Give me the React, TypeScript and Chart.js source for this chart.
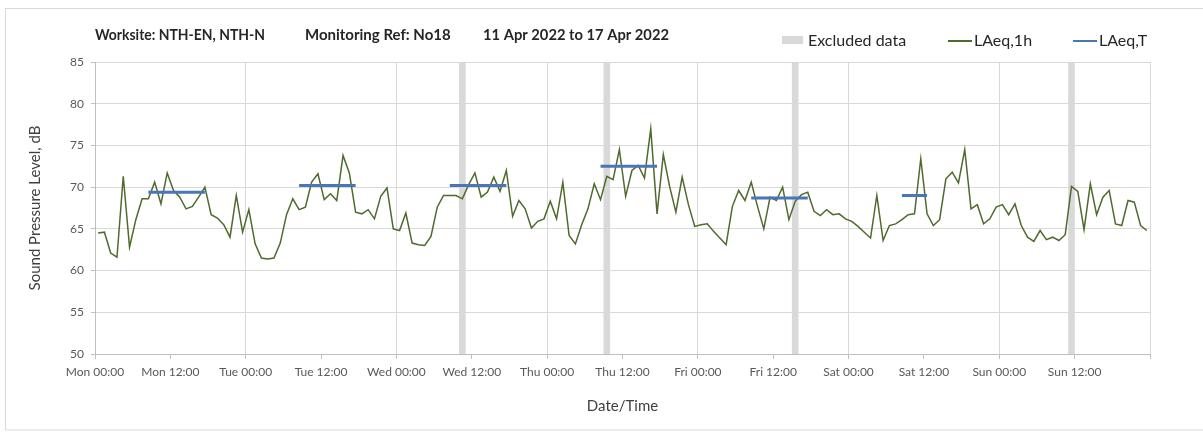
import { useEffect, useRef } from "react";
import { Chart, registerables } from "chart.js";

Chart.register(...registerables);

// Hourly LAeq,1h values (dB), one array per day, Mon..Sun
const monValues = [64.5, 64.6, 62.1, 61.6, 71.3, 62.8, 66.1, 68.6, 68.6, 70.6, 68.0, 71.7, 69.6, 68.8, 67.4, 67.7, 68.8, 70.0, 66.7, 66.3, 65.5, 64.0, 69.0, 64.6];
const tueValues = [67.3, 63.2, 61.5, 61.4, 61.5, 63.3, 66.7, 68.6, 67.3, 67.6, 70.6, 71.6, 68.5, 69.2, 68.4, 73.8, 71.7, 67.0, 66.8, 67.3, 66.2, 68.9, 69.9, 65.0];
const wedValues = [64.8, 66.9, 63.3, 63.1, 63.0, 64.1, 67.6, 69.0, 69.0, 69.0, 68.6, 70.3, 71.7, 68.8, 69.4, 71.2, 69.5, 72.0, 66.5, 68.4, 67.4, 65.1, 65.9, 66.2];
const thuValues = [68.3, 66.2, 70.6, 64.2, 63.2, 65.5, 67.4, 70.4, 68.5, 71.3, 70.9, 74.5, 68.9, 72.0, 72.6, 71.1, 77.0, 66.8, 73.9, 70.1, 67.0, 71.2, 67.9, 65.3];
const friValues = [65.5, 65.6, 64.7, 63.9, 63.1, 67.7, 69.6, 68.4, 70.6, 67.7, 65.0, 68.8, 68.4, 70.0, 66.1, 68.3, 69.1, 69.4, 67.1, 66.6, 67.3, 66.7, 66.8, 66.2];
const satValues = [65.9, 65.3, 64.6, 63.9, 69.0, 63.6, 65.4, 65.6, 66.1, 66.7, 66.8, 73.4, 66.8, 65.4, 66.1, 71.0, 71.8, 70.5, 74.5, 67.4, 67.9, 65.6, 66.2, 67.6];
const sunValues = [67.9, 66.7, 68.0, 65.4, 64.0, 63.5, 64.8, 63.7, 64.0, 63.6, 64.3, 70.1, 69.5, 64.9, 70.4, 66.7, 68.8, 69.6, 65.6, 65.4, 68.4, 68.2, 65.4, 64.8];

// Excluded hours (hour index from Mon 00:00)
const excludedHours = [58, 81, 111, 155];

// LAeq,T periods (hours from Mon 00:00) and values (dB)
const periodStart = [8.5, 32.5, 56.5, 80.5, 104.5, 128.5];
const periodEnd = [17.5, 41.5, 65.5, 89.5, 113.5, 132.5];
const periodValues = [69.4, 70.2, 70.2, 72.5, 68.7, 69.0];

// X tick labels every 12 hours
const tickLabels = [
  "Mon 00:00", "Mon 12:00", "Tue 00:00", "Tue 12:00", "Wed 00:00", "Wed 12:00", "Thu 00:00",
  "Thu 12:00", "Fri 00:00", "Fri 12:00", "Sat 00:00", "Sat 12:00", "Sun 00:00", "Sun 12:00",
];

const titleParts = ["Worksite: NTH-EN, NTH-N", "Monitoring Ref: No18", "11 Apr 2022 to 17 Apr 2022"];
const legendLabels = ["Excluded data", "LAeq,1h", "LAeq,T"];

const FONT = "Lato, 'Open Sans', sans-serif";
const GREEN = "#4e6a2c";
const BLUE = "#4a76b8";
const GREY_BAR = "#d9d9d9";

const headerPlugin = {
  id: "header",
  afterDraw(chart: any) {
    const ctx = chart.ctx as CanvasRenderingContext2D;
    ctx.save();
    // outer border
    ctx.strokeStyle = "#d9d9d9";
    ctx.lineWidth = 1;
    ctx.strokeRect(5.5, 8.5, 1210, 421.5);

    // title
    ctx.fillStyle = "#262626";
    ctx.textBaseline = "alphabetic";
    ctx.textAlign = "left";
    ctx.font = `bold 15px ${FONT}`;
    const tx = [95, 305, 483];
    const tw = [170, 157, 186];
    titleParts.forEach((t, i) => ctx.fillText(t, tx[i], 39.5, tw[i]));

    // legend
    ctx.font = `16px ${FONT}`;
    ctx.fillStyle = GREY_BAR;
    ctx.fillRect(782, 36, 21, 8);
    ctx.fillStyle = "#262626";
    ctx.fillText(legendLabels[0], 808, 45.5);

    ctx.strokeStyle = GREEN;
    ctx.lineWidth = 2;
    ctx.beginPath();
    ctx.moveTo(948, 41);
    ctx.lineTo(972, 41);
    ctx.stroke();
    ctx.fillText(legendLabels[1], 974, 45.5);

    ctx.strokeStyle = BLUE;
    ctx.beginPath();
    ctx.moveTo(1073, 41);
    ctx.lineTo(1097, 41);
    ctx.stroke();
    ctx.fillText(legendLabels[2], 1099, 45.5);
    ctx.restore();
  },
};

export default function App() {
  const ref = useRef<HTMLCanvasElement>(null);

  useEffect(() => {
    document.body.style.margin = "0";
    const hourly = [...monValues, ...tueValues, ...wedValues, ...thuValues, ...friValues, ...satValues, ...sunValues];
    const lineData = hourly.map((v, i) => ({ x: i + 0.5, y: v }));
    const barData = excludedHours.map((h) => ({ x: h + 0.5, y: 85 }));
    const tData: any[] = [];
    periodValues.forEach((v, i) => {
      tData.push({ x: periodStart[i], y: v }, { x: periodEnd[i], y: v }, { x: periodEnd[i] + 0.5, y: null });
    });

    const chart = new Chart(ref.current as HTMLCanvasElement, {
      type: "line",
      data: {
        datasets: [
          {
            type: "line",
            label: "LAeq,T",
            data: tData,
            borderColor: BLUE,
            borderWidth: 3,
            pointRadius: 0,
            spanGaps: false,
            order: 0,
          } as any,
          {
            type: "line",
            label: "LAeq,1h",
            data: lineData,
            borderColor: GREEN,
            borderWidth: 1.5,
            pointRadius: 0,
            tension: 0,
            order: 1,
          } as any,
          {
            type: "bar",
            label: "Excluded data",
            data: barData,
            backgroundColor: GREY_BAR,
            barThickness: 6,
            order: 2,
          } as any,
        ],
      },
      options: {
        responsive: false,
        animation: false,
        layout: { padding: { top: 62, right: 53, left: 0, bottom: 0 } },
        plugins: {
          legend: { display: false },
          title: { display: false },
          tooltip: { enabled: false },
        },
        scales: {
          x: {
            type: "linear",
            min: 0,
            max: 168,
            offset: false,
            ticks: {
              stepSize: 12,
              autoSkip: false,
              maxRotation: 0,
              minRotation: 0,
              color: "#595959",
              font: { family: FONT, size: 12 },
              padding: 6,
              callback: (v: any) => tickLabels[Math.round(Number(v) / 12)] ?? "",
            },
            grid: {
              offset: false,
              color: (c: any) => (c.tick && Math.round(c.tick.value) % 24 === 0 ? "#d9d9d9" : "rgba(0,0,0,0)"),
              tickColor: "#bfbfbf",
              tickLength: 5,
              drawTicks: true,
            },
            border: { color: "#bfbfbf" },
            title: {
              display: true,
              text: "Date/Time",
              color: "#404040",
              font: { family: FONT, size: 15 },
              padding: { top: 0, bottom: 16.6 },
            },
            afterFit: (s: any) => {
              s.height = 78;
            },
          } as any,
          y: {
            min: 50,
            max: 85,
            ticks: {
              stepSize: 5,
              color: "#595959",
              font: { family: FONT, size: 12 },
              padding: 7,
            },
            grid: { color: "#d9d9d9", tickColor: "#bfbfbf", tickLength: 4 },
            border: { color: "#bfbfbf" },
            title: {
              display: true,
              text: "Sound Pressure Level, dB",
              color: "#404040",
              font: { family: FONT, size: 15 },
              padding: { top: 26.6, bottom: 0 },
            },
            afterFit: (s: any) => {
              s.width = 95;
            },
          } as any,
        },
      },
      plugins: [headerPlugin],
    });
    return () => chart.destroy();
  }, []);

  return <canvas ref={ref} width={1203} height={432} style={{ display: "block" }} />;
}
